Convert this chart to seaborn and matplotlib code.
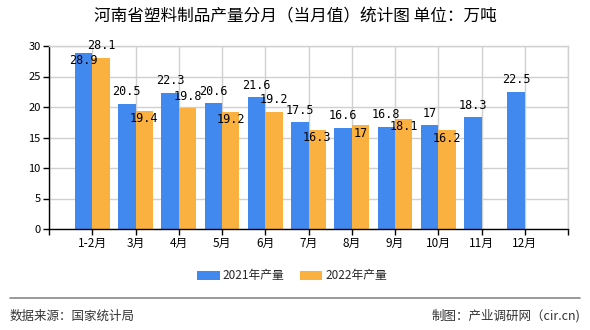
import numpy as np
import pandas as pd
import matplotlib
matplotlib.use("Agg")
import matplotlib.pyplot as plt
import seaborn as sns

categories = ["1-2月", "3月", "4月", "5月", "6月", "7月", "8月", "9月", "10月", "11月", "12月"]
prod_2021 = [28.9, 20.5, 22.3, 20.6, 21.6, 17.5, 16.6, 16.8, 17, 18.3, 22.5]
prod_2022 = [28.1, 19.4, 19.8, 19.2, 19.2, 16.3, 17, 18.1, 16.2, None, None]
series_names = ["2021年产量", "2022年产量"]
y_ticks = [0, 5, 10, 15, 20, 25, 30]

# label placement styles (above / below bar top)
label_side_2021 = ["below", "above", "above", "above", "above", "above", "above", "above", "above", "above", "above"]
label_side_2022 = ["above", "below", "above", "below", "above", "below", "below", "below", "below", None, None]

colors = ["#4189ee", "#fbb13f"]

sns.set_theme(style="white")
plt.rcParams["font.family"] = ["Noto Sans CJK SC", "DejaVu Sans"]

rows = []
for c, a, b in zip(categories, prod_2021, prod_2022):
    rows.append({"month": c, "series": series_names[0], "value": a})
    rows.append({"month": c, "series": series_names[1], "value": np.nan if b is None else b})
df = pd.DataFrame(rows)

fig = plt.figure(figsize=(5.9, 3.3), dpi=100)
ax = fig.add_axes([49/590, 1-229/330, (568-49)/590, (229-46)/330])

sns.barplot(data=df, x="month", y="value", hue="series", order=categories,
            hue_order=series_names, palette=colors, width=0.8, saturation=1,
            ax=ax, legend=True, linewidth=0)

ax.set_xlim(-1, len(categories))
ax.set_ylim(0, 30)
ax.set_yticks(y_ticks)
ax.set_yticklabels([str(t) for t in y_ticks], fontsize=8, color="#000000")
xt = list(range(-1, len(categories) + 1))
ax.set_xticks(xt)
ax.set_xticklabels([""] + categories + [""], fontsize=8.5, color="#000000")
ax.set_xlabel("")
ax.set_ylabel("")

ax.grid(True, color="#d0d0d0", linewidth=1)
ax.set_axisbelow(True)
for s in ["top", "right"]:
    ax.spines[s].set_color("#d0d0d0")
    ax.spines[s].set_linewidth(1)
for s in ["left", "bottom"]:
    ax.spines[s].set_color("#000000")
    ax.spines[s].set_linewidth(1)
ax.tick_params(axis="both", which="both", length=4, width=1, color="#000000", pad=2, direction="out")
ax.tick_params(axis="x", bottom=True)
ax.tick_params(axis="y", left=True)

# value labels
for cont, vals, sides in zip(ax.containers, [prod_2021, prod_2022], [label_side_2021, label_side_2022]):
    for p, v, side in zip(cont.patches, vals, sides):
        if v is None or side is None:
            continue
        h = p.get_height()
        if np.isnan(h):
            continue
        x = p.get_x() + p.get_width() / 2
        dy = 12 if side == "above" else -8
        ax.annotate(f"{v:g}", (x, h), xytext=(0, dy), textcoords="offset pixels",
                    ha="center", va="center", fontsize=8.5,
                    family=["DejaVu Sans Mono", "Noto Sans CJK SC"], color="#000000")

# legend
handles, labels = ax.get_legend_handles_labels()
ax.legend_.remove()
fig.legend(handles, labels, loc="center", bbox_to_anchor=(292/590, 1-276/330), ncol=2,
           frameon=False, fontsize=8.5, handlelength=1.9, handleheight=0.8,
           columnspacing=1.3, handletextpad=0.25)

fig.text(295/590, 1-17/330, "河南省塑料制品产量分月（当月值）统计图 单位：万吨", ha="center", va="center",
         fontsize=12, color="#000000")

fig.add_artist(plt.Line2D([10/590, 580/590], [1-298/330, 1-298/330], color="#888888", linewidth=1.2))
fig.text(10/590, 1-316/330, "数据来源：国家统计局", ha="left", va="center", fontsize=9, color="#333333")
fig.text(580/590, 1-316/330, "制图：产业调研网（cir.cn)", ha="right", va="center", fontsize=9, color="#333333")

fig.savefig("out.png", dpi=100)
